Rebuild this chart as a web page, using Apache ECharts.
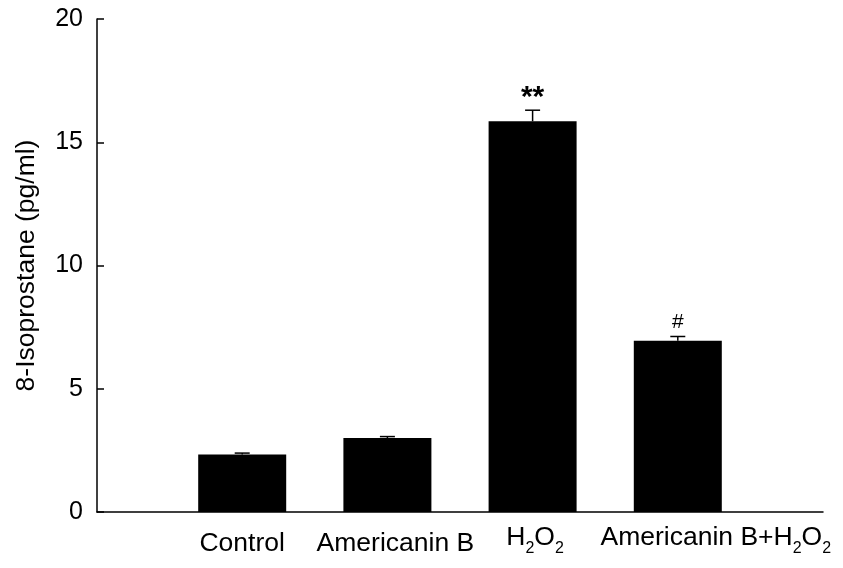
<!DOCTYPE html>
<html>
<head>
<meta charset="utf-8">
<script src="https://cdn.jsdelivr.net/npm/echarts@6/dist/echarts.min.js"></script>
<style>html,body{margin:0;padding:0;background:#fff}#c{width:843px;height:568px}</style>
</head>
<body>
<div id="c"></div>
<script>
var categories = ['', 'Control', 'Americanin B', 'H2O2', 'Americanin B+H2O2', ''];
var values = [null, 2.33, 3.0, 15.85, 6.95, null];
var errors = [null, 0.06, 0.06, 0.45, 0.17, null];
var marks = ['', '', '', '**', '#', ''];
var yTicks = [0, 5, 10, 15, 20];

// rich-text formatting of the category labels (subscripts, small offsets as in the reference)
var labelMap = {
  'Control': '{a|Control}',
  'Americanin B': '{a2|Americanin B}',
  'H2O2': '{h1|H}{s|2}{h|O}{s|2}',
  'Americanin B+H2O2': '{h2|Americanin B+H}{s|2}{h|O}{s|2}'
};

var chart = echarts.init(document.getElementById('c'));
var font = 'Liberation Sans, Arial, sans-serif';
var FS = 26.5;
var errData = categories.map(function (c, i) {
  return values[i] == null ? null : [i, values[i], errors[i], marks[i]];
}).filter(function (d) { return d; });

function base(extra) {
  var o = { fontFamily: font, fontSize: FS, color: '#000', lineHeight: 40, verticalAlign: 'middle' };
  for (var k in extra) o[k] = extra[k];
  return o;
}

chart.setOption({
  animation: false,
  backgroundColor: '#fff',
  grid: { left: 97, right: 20, top: 19, bottom: 56, containLabel: false },
  xAxis: {
    type: 'category',
    data: categories,
    boundaryGap: false,
    axisLine: { lineStyle: { color: '#000', width: 1.5 } },
    axisTick: { show: false },
    splitLine: { show: false },
    axisLabel: {
      interval: 0,
      margin: 12,
      color: '#000',
      fontFamily: font,
      fontSize: FS,
      formatter: function (v) { return labelMap[v] || ''; },
      rich: {
        a: base({}),
        a2: base({ padding: [0, 0, 0, 16] }),
        h: base({ verticalAlign: 'top' }),
        h1: base({ verticalAlign: 'top', padding: [0, 0, 0, 5] }),
        h2: base({ verticalAlign: 'top', padding: [0, 0, 0, 76] }),
        s: { fontFamily: font, fontSize: 16, color: '#000', verticalAlign: 'top', padding: [17, 0, 0, 0] }
      }
    }
  },
  yAxis: {
    type: 'value',
    min: yTicks[0],
    max: yTicks[yTicks.length - 1],
    interval: 5,
    name: '8-Isoprostane (pg/ml)',
    nameLocation: 'middle',
    nameGap: 57,
    nameTextStyle: { fontFamily: font, fontSize: FS, color: '#000' },
    axisLine: { show: true, lineStyle: { color: '#000', width: 1.5 } },
    axisTick: { show: true, inside: true, length: 7, lineStyle: { color: '#000', width: 1.5 } },
    splitLine: { show: false },
    axisLabel: { color: '#000', fontFamily: font, fontSize: 25, margin: 14 }
  },
  series: [
    {
      type: 'bar',
      data: values,
      barWidth: 88,
      itemStyle: { color: '#000' },
      z: 2
    },
    {
      type: 'custom',
      data: errData,
      z: 3,
      renderItem: function (params, api) {
        var x = api.value(0), v = api.value(1), e = api.value(2);
        var top = api.coord([x, v + e]);
        var bot = api.coord([x, v]);
        var half = 7.5;
        var children = [
          { type: 'line', shape: { x1: top[0], y1: bot[1], x2: top[0], y2: top[1] }, style: { stroke: '#000', lineWidth: 1.5 } },
          { type: 'line', shape: { x1: top[0] - half, y1: top[1], x2: top[0] + half, y2: top[1] }, style: { stroke: '#000', lineWidth: 1.5 } }
        ];
        var m = api.value(3);
        if (m) {
          var star = m === '**';
          children.push({
            type: 'text',
            style: {
              text: m,
              x: top[0],
              y: top[1] + (star ? 3 : -4),
              align: 'center',
              verticalAlign: 'bottom',
              fontFamily: font,
              fontSize: star ? 30 : 21,
              fontWeight: star ? 'bold' : 'normal',
              fill: '#000'
            }
          });
        }
        return { type: 'group', children: children };
      }
    }
  ]
});
</script>
</body>
</html>
